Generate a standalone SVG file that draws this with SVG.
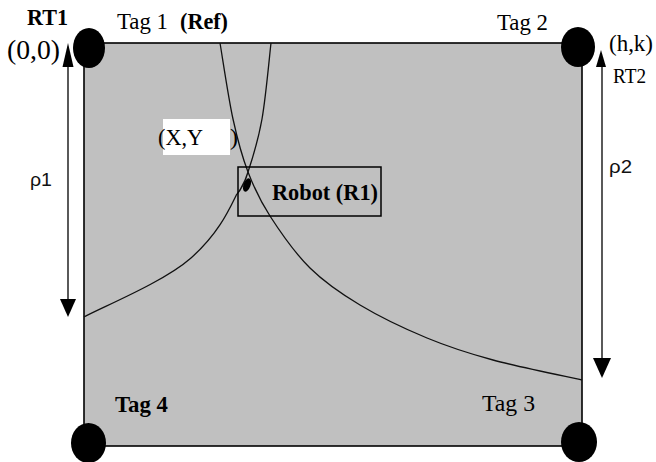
<svg xmlns="http://www.w3.org/2000/svg" width="656" height="462" viewBox="0 0 656 462">
<style>
.serif{font-family:"Liberation Serif","Times New Roman",serif;fill:#000}
.b{font-weight:bold}
.sans{font-family:"Liberation Sans",Arial,sans-serif;fill:#111}
.tag{fill:#000}
.curve{fill:none;stroke:#111;stroke-width:1.3}
.arr{stroke:#000;stroke-width:1.3}
.head{fill:#000}
</style>
<rect width="656" height="462" fill="#fff"/>
<g id="area">
<rect x="84" y="43" width="498" height="403" fill="#c0c0c0" stroke="#000" stroke-width="1.6"/>
</g>
<g id="connectors">
<path class="curve" d="M220,43 C222.2,55.7 228.3,97.5 233,119 C237.7,140.5 241.8,155.8 248,172 C254.2,188.2 259.7,200 270,216 C280.3,232 295,253.2 310,268 C325,282.8 340.5,293.3 360,305 C379.5,316.7 404.8,328.8 427,338 C449.2,347.2 467.2,353 493,360 C518.8,367 567.2,376.7 582,380"/>
<path class="curve" d="M271,43 C269.5,55.7 265.8,97.5 262,119 C258.2,140.5 252.5,158.5 248,172 C244,186 236.2,195.2 236.2,195.2 C229,210 218.3,233.8 191,258 C163.7,282.2 101.8,307.2 84,317"/>
<line class="arr" x1="68" y1="60" x2="68" y2="302"/>
<polygon class="head" points="68,43 62.5,67 73.5,67"/>
<polygon class="head" points="68,317 60,299 76,299"/>
<line class="arr" x1="602" y1="62" x2="602" y2="362"/>
<polygon class="head" points="601,50 596,67 606,67"/>
<polygon class="head" points="602,378 593,358 611,358"/>
</g>
<g id="tag1">
<ellipse class="tag" cx="89" cy="48" rx="16" ry="20"/>
<text class="serif b" x="27" y="25" font-size="23" textLength="41" lengthAdjust="spacingAndGlyphs">RT1</text>
<text class="serif" x="7" y="59" font-size="27" textLength="53" lengthAdjust="spacingAndGlyphs">(0,0)</text>
<text class="serif" x="117" y="29" font-size="24" textLength="51" lengthAdjust="spacingAndGlyphs">Tag 1</text>
<text class="serif b" x="180" y="29" font-size="24" textLength="48" lengthAdjust="spacingAndGlyphs">(Ref)</text>
<text class="sans" x="30" y="186" font-size="19" textLength="22" lengthAdjust="spacingAndGlyphs">ρ1</text>
</g>
<g id="tag2">
<ellipse class="tag" cx="578" cy="47" rx="17" ry="20"/>
<text class="serif" x="497" y="30" font-size="24" textLength="51" lengthAdjust="spacingAndGlyphs">Tag 2</text>
<text class="serif" x="609" y="51" font-size="24" textLength="44" lengthAdjust="spacingAndGlyphs">(h,k)</text>
<text class="serif" x="613" y="83" font-size="21" textLength="33" lengthAdjust="spacingAndGlyphs">RT2</text>
<text class="sans" x="609" y="173" font-size="19" textLength="23" lengthAdjust="spacingAndGlyphs">ρ2</text>
</g>
<g id="tag3">
<ellipse class="tag" cx="579" cy="442" rx="18" ry="20"/>
<text class="serif" x="482" y="411" font-size="24" textLength="53" lengthAdjust="spacingAndGlyphs">Tag 3</text>
</g>
<g id="tag4">
<ellipse class="tag" cx="88.5" cy="443" rx="17.5" ry="20"/>
<text class="serif b" x="115" y="412" font-size="24" textLength="53" lengthAdjust="spacingAndGlyphs">Tag 4</text>
</g>
<g id="xy">
<rect x="163" y="119" width="67" height="36" fill="#fff"/>
<text class="serif" x="158" y="145" font-size="24" textLength="45" lengthAdjust="spacingAndGlyphs">(X,Y</text>
<text class="serif" x="230" y="145" font-size="24">)</text>
</g>
<g id="robot">
<rect x="238" y="167" width="143" height="49" fill="none" stroke="#000" stroke-width="1.5"/>
<ellipse cx="247" cy="185" rx="3.5" ry="7" transform="rotate(20 247 185)" fill="#000"/>
<text class="serif b" x="272" y="200" font-size="23" textLength="106" lengthAdjust="spacingAndGlyphs">Robot (R1)</text>
</g>
</svg>
